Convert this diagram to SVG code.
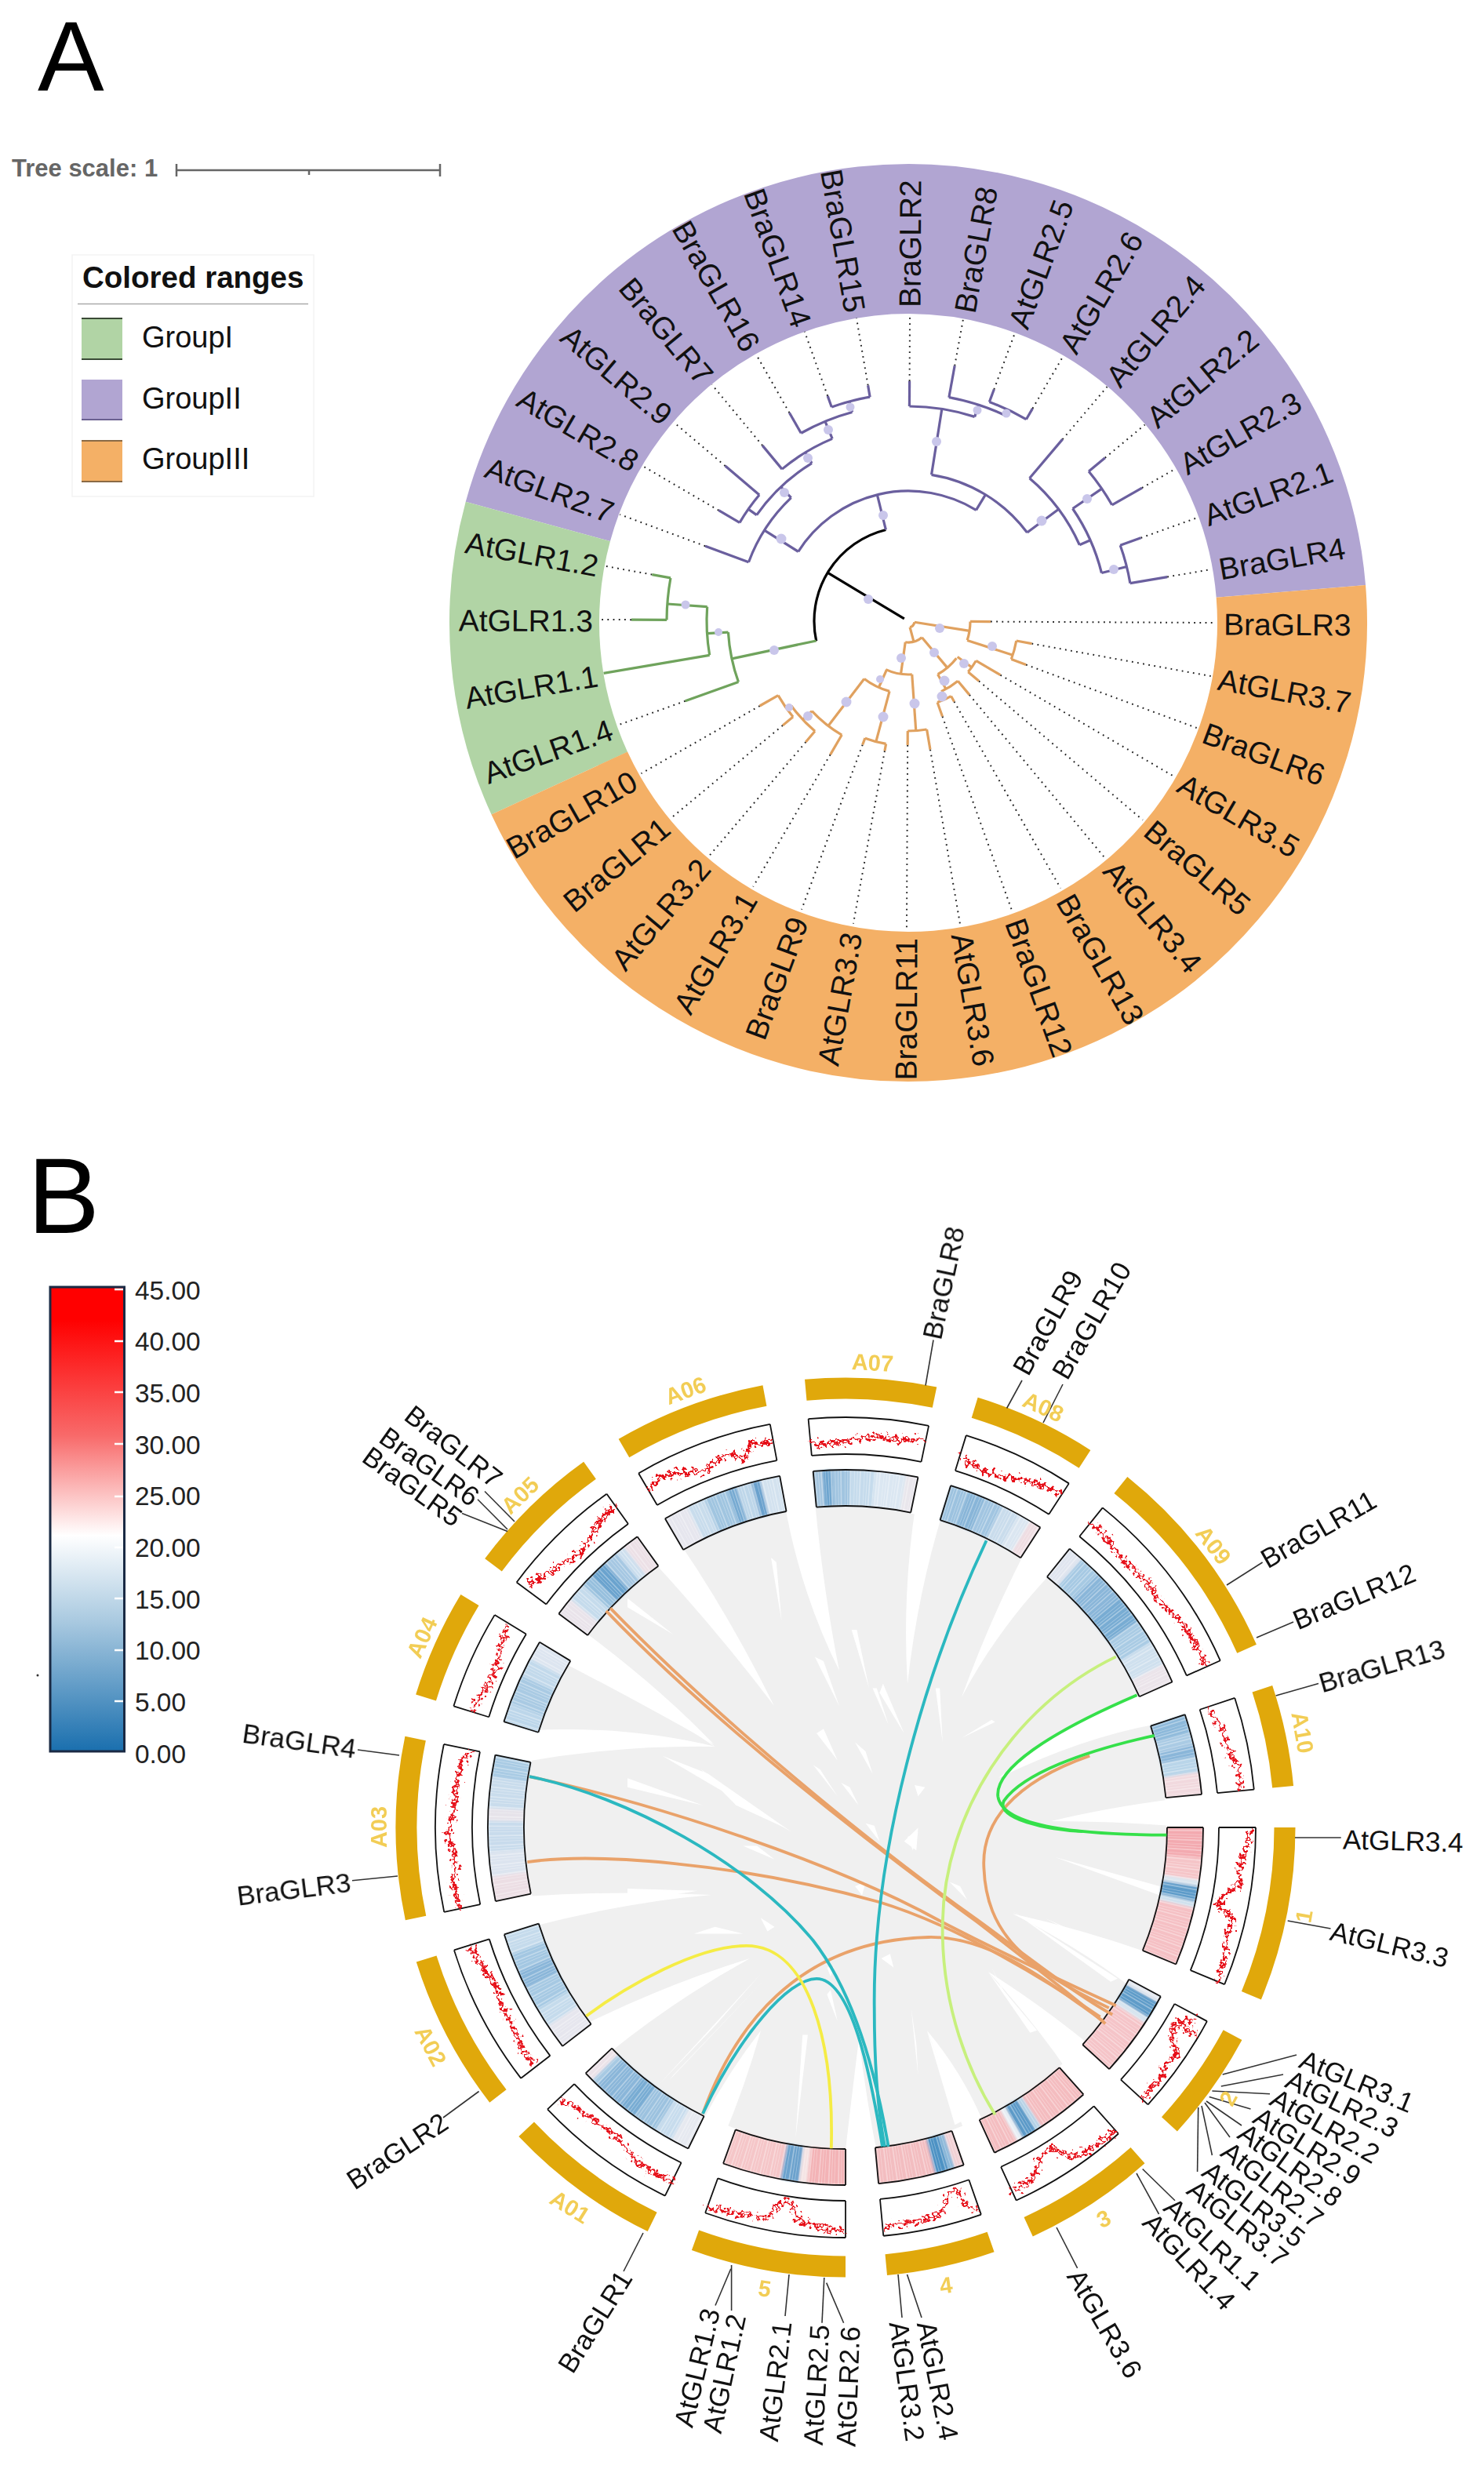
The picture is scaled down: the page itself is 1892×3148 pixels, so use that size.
<svg xmlns="http://www.w3.org/2000/svg" xmlns:xlink="http://www.w3.org/1999/xlink" width="1892" height="3148" viewBox="0 0 1892 3148">
<style>
text{font-family:"Liberation Sans",Arial,sans-serif;fill:#111}
.big{font-size:138px;fill:#000}
.lab{font-size:39px;dominant-baseline:central}
.e{text-anchor:end}
.blab{font-size:35px;dominant-baseline:central}
.chr{font-size:29px;font-weight:700;fill:#f2cd55;text-anchor:middle;dominant-baseline:central}
.cb{font-size:33.4px;fill:#222}
.t circle,.t path{fill:none;stroke-width:3.2}
.pu circle,.pu path{stroke:#6a5f9e}
.gr circle,.gr path{stroke:#6fa35c}
.or circle,.or path{stroke:#e0a15f}
.bk circle,.bk path{stroke:#000}
.dot path{fill:none;stroke:#222;stroke-width:2;stroke-dasharray:1.8 5.4}
.boot circle{fill:#c9c6ea}
.lead path{fill:none;stroke:#333;stroke-width:1.6}
.lk path{fill:none;stroke-width:3.8;vector-effect:non-scaling-stroke}
.red path{fill:none;stroke:#e60f18;stroke-width:4.2;vector-effect:non-scaling-stroke;stroke-linejoin:round}
.rg{stroke:#e0a80b;stroke-width:27}
.bd{stroke:#111;stroke-width:1.8;fill:none}
.h use{stroke-width:46}
</style>
<defs>
<circle id="r" r="560" pathLength="360" fill="none"/>
<circle id="b1" r="410" pathLength="360" fill="none"/>
<circle id="b2" r="456" pathLength="360" fill="none"/>
<circle id="b3" r="476" pathLength="360" fill="none"/>
<circle id="b4" r="523" pathLength="360" fill="none"/>
<circle id="hc" r="433" pathLength="360" fill="none"/>
<path id="edge" d="M410 0H456M476 0H523"/>
<linearGradient id="cbar" x1="0" y1="0" x2="0" y2="1">
<stop offset="0" stop-color="#ff0000"/><stop offset=".07" stop-color="#ff0000"/><stop offset=".32" stop-color="#f86a6a"/><stop offset=".535" stop-color="#ffffff"/><stop offset=".72" stop-color="#a9c9e0"/><stop offset="1" stop-color="#1a6fae"/>
</linearGradient>
<filter id="jag" filterUnits="userSpaceOnUse" x="400" y="1700" width="1300" height="1300" color-interpolation-filters="sRGB">
<feTurbulence type="fractalNoise" baseFrequency=".2" numOctaves="2" seed="3" result="n"/>
<feDisplacementMap in="SourceGraphic" in2="n" scale="22" xChannelSelector="R" yChannelSelector="G"/>
</filter>
<filter id="soft" filterUnits="userSpaceOnUse" x="-480" y="-480" width="960" height="960">
<feGaussianBlur stdDeviation="1.8"/>
</filter>
</defs>
<rect width="1892" height="3148" fill="#fff"/>

<g id="panel-A-title"><text class="big" style="font-size:127px" x="48" y="115">A</text></g>
<g id="tree-scale">
<text x="15" y="225" font-size="31" font-weight="700" style="fill:#666">Tree scale: 1</text>
<path d="M225 217H561M225 209V225M561 209V225M394 217V223" stroke="#666" stroke-width="2.5" fill="none"/>
</g>
<g id="legend">
<rect x="92" y="325" width="308" height="308" fill="#fff" stroke="#f3f3f3" stroke-width="1.5"/>
<text x="105" y="367" font-size="38.5" font-weight="700">Colored ranges</text>
<path d="M99 387.5H393" stroke="#aaa" stroke-width="1.5"/>
<rect x="104" y="405" width="52" height="54" fill="#b1d4a5"/><path d="M104 406H156M104 458H156" stroke="#3a4a36" stroke-width="2"/>
<rect x="104" y="484" width="52" height="52" fill="#b1a5d2"/><path d="M104 535H156" stroke="#6a6090" stroke-width="2"/>
<rect x="104" y="561" width="52" height="54" fill="#f4b066"/><path d="M104 562H156M104 614H156" stroke="#8a6a45" stroke-width="2"/>
<text x="181" y="443" font-size="38">GroupI</text>
<text x="181" y="521" font-size="38">GroupII</text>
<text x="181" y="598" font-size="38">GroupIII</text>
</g>

<g id="ring-A" transform="translate(1158,794)" fill="none" stroke-width="191">
<circle id="range-II" r="489.5" pathLength="360" stroke="#b1a5d2" stroke-dasharray="160 360" transform="rotate(-164.7)"/>
<circle id="range-I" r="489.5" pathLength="360" stroke="#b1d4a5" stroke-dasharray="40 360" transform="rotate(-204.7)"/>
<circle id="range-III" r="489.5" pathLength="360" stroke="#f4b066" stroke-dasharray="160 360" transform="rotate(-364.7)"/>
</g>

<g id="connectors-A" transform="translate(1158,792)">
<g class="dot">
<path d="M335 0H392" transform="rotate(-9.7)"/><path d="M315 0H392" transform="rotate(-19.7)"/><path d="M343 0H392" transform="rotate(-29.7)"/><path d="M326 0H392" transform="rotate(-39.7)"/><path d="M304 0H392" transform="rotate(-49.7)"/><path d="M314 0H392" transform="rotate(-59.7)"/><path d="M315 0H392" transform="rotate(-69.7)"/><path d="M331 0H392" transform="rotate(-79.7)"/><path d="M306 0H392" transform="rotate(-89.7)"/><path d="M305 0H392" transform="rotate(-99.7)"/><path d="M305 0H392" transform="rotate(-109.7)"/><path d="M306 0H392" transform="rotate(-119.7)"/><path d="M291 0H392" transform="rotate(-129.7)"/><path d="M306 0H392" transform="rotate(-139.7)"/><path d="M280 0H392" transform="rotate(-149.7)"/><path d="M276 0H392" transform="rotate(-159.7)"/>
<path d="M332 0H392" transform="rotate(-169.7)"/><path d="M353 0H392" transform="rotate(-179.7)"/><path d="M302 0H392" transform="rotate(-199.7)"/>
<path d="M218 0H392" transform="rotate(-209.7)"/><path d="M208 0H392" transform="rotate(-219.7)"/><path d="M202 0H392" transform="rotate(-229.7)"/><path d="M197 0H392" transform="rotate(-239.7)"/><path d="M168 0H392" transform="rotate(-249.7)"/><path d="M168 0H392" transform="rotate(-259.7)"/><path d="M158 0H392" transform="rotate(-269.7)"/><path d="M166 0H392" transform="rotate(-279.7)"/><path d="M129 0H392" transform="rotate(-289.7)"/><path d="M118 0H392" transform="rotate(-299.7)"/><path d="M122 0H392" transform="rotate(-309.7)"/><path d="M118 0H392" transform="rotate(-319.7)"/><path d="M136 0H392" transform="rotate(-329.7)"/><path d="M160 0H392" transform="rotate(-339.7)"/><path d="M160 0H392" transform="rotate(-349.7)"/><path d="M105 0H392" transform="rotate(-359.7)"/>
</g>
<g class="t bk">
<circle r="120" pathLength="360" stroke-dasharray="88.4 360" transform="rotate(-192.2)"/>
<path d="M6 0H120" transform="rotate(-149)"/>
</g>
<g class="t pu">
<path d="M120 0H166" transform="rotate(-103.8)"/>
<circle r="166" pathLength="360" stroke-dasharray="89.1 360" transform="rotate(-147.7)"/>
<path d="M166 0H217" transform="rotate(-147.7)"/>
<circle r="217" pathLength="360" stroke-dasharray="26.2 360" transform="rotate(-159.7)"/>
<path d="M217 0H276" transform="rotate(-159.7)"/>
<path d="M217 0H236" transform="rotate(-133.5)"/>
<circle r="236" pathLength="360" stroke-dasharray="23.6 360" transform="rotate(-145)"/>
<path d="M236 0H249" transform="rotate(-145)"/>
<circle r="249" pathLength="360" stroke-dasharray="10 360" transform="rotate(-149.7)"/>
<path d="M249 0H280" transform="rotate(-149.7)"/><path d="M249 0H306" transform="rotate(-139.7)"/>
<path d="M236 0H252" transform="rotate(-121.4)"/>
<circle r="252" pathLength="360" stroke-dasharray="17.1 360" transform="rotate(-129.7)"/>
<path d="M252 0H291" transform="rotate(-129.7)"/>
<path d="M252 0H276" transform="rotate(-112.6)"/>
<circle r="276" pathLength="360" stroke-dasharray="14.7 360" transform="rotate(-119.7)"/>
<path d="M276 0H306" transform="rotate(-119.7)"/>
<path d="M276 0H290" transform="rotate(-105)"/>
<circle r="290" pathLength="360" stroke-dasharray="10 360" transform="rotate(-109.7)"/>
<path d="M290 0H305" transform="rotate(-109.7)"/><path d="M290 0H305" transform="rotate(-99.7)"/>
<path d="M166 0H189" transform="rotate(-58.6)"/>
<circle r="189" pathLength="360" stroke-dasharray="44.3 360" transform="rotate(-81)"/>
<path d="M189 0H274" transform="rotate(-81)"/>
<circle r="274" pathLength="360" stroke-dasharray="17.7 360" transform="rotate(-89.7)"/>
<path d="M274 0H306" transform="rotate(-89.7)"/>
<path d="M274 0H290" transform="rotate(-72)"/>
<circle r="290" pathLength="360" stroke-dasharray="15.2 360" transform="rotate(-79.7)"/>
<path d="M290 0H331" transform="rotate(-79.7)"/>
<path d="M290 0H298" transform="rotate(-64.5)"/>
<circle r="298" pathLength="360" stroke-dasharray="10 360" transform="rotate(-69.7)"/>
<path d="M298 0H315" transform="rotate(-69.7)"/><path d="M298 0H314" transform="rotate(-59.7)"/>
<path d="M189 0H239" transform="rotate(-36.7)"/>
<circle r="239" pathLength="360" stroke-dasharray="25.7 360" transform="rotate(-49.7)"/>
<path d="M239 0H304" transform="rotate(-49.7)"/>
<path d="M239 0H254" transform="rotate(-24)"/>
<circle r="254" pathLength="360" stroke-dasharray="20.4 360" transform="rotate(-34.4)"/>
<path d="M254 0H299" transform="rotate(-34.4)"/>
<circle r="299" pathLength="360" stroke-dasharray="10 360" transform="rotate(-39.7)"/>
<path d="M299 0H326" transform="rotate(-39.7)"/><path d="M299 0H343" transform="rotate(-29.7)"/>
<path d="M254 0H287" transform="rotate(-14)"/>
<circle r="287" pathLength="360" stroke-dasharray="10 360" transform="rotate(-19.7)"/>
<path d="M287 0H315" transform="rotate(-19.7)"/><path d="M287 0H335" transform="rotate(-9.7)"/>
</g>
<g class="t gr">
<path d="M120 0H230" transform="rotate(-192)"/>
<circle r="230" pathLength="360" stroke-dasharray="16.2 360" transform="rotate(-199.7)"/>
<path d="M230 0H302" transform="rotate(-199.7)"/>
<path d="M230 0H257" transform="rotate(-183.5)"/>
<circle r="257" pathLength="360" stroke-dasharray="13.8 360" transform="rotate(-189.7)"/>
<path d="M257 0H394" transform="rotate(-189.7)"/>
<path d="M257 0H308" transform="rotate(-175.9)"/>
<circle r="308" pathLength="360" stroke-dasharray="10 360" transform="rotate(-179.7)"/>
<path d="M308 0H332" transform="rotate(-169.7)"/><path d="M308 0H353" transform="rotate(-179.7)"/>
</g>
<g class="t or">
<circle r="8" pathLength="360" stroke-dasharray="66 360" transform="rotate(-351)"/>
<path d="M8 0H79" transform="rotate(-351)"/>
<path d="M8 0H27" transform="rotate(-285)"/>
<circle r="79" pathLength="360" stroke-dasharray="17.7 360" transform="rotate(-359.7)"/>
<path d="M79 0H105" transform="rotate(-359.7)"/>
<path d="M79 0H140" transform="rotate(-342)"/>
<circle r="140" pathLength="360" stroke-dasharray="10 360" transform="rotate(-349.7)"/>
<path d="M140 0H160" transform="rotate(-349.7)"/><path d="M140 0H160" transform="rotate(-339.7)"/>
<circle r="27" pathLength="360" stroke-dasharray="48 360" transform="rotate(-310)"/>
<path d="M27 0H68" transform="rotate(-262)"/>
<circle r="68" pathLength="360" stroke-dasharray="29 360" transform="rotate(-274)"/>
<path d="M68 0H140" transform="rotate(-274)"/>
<circle r="140" pathLength="360" stroke-dasharray="10 360" transform="rotate(-279.7)"/>
<path d="M140 0H158" transform="rotate(-269.7)"/><path d="M140 0H166" transform="rotate(-279.7)"/>
<path d="M68 0H92.5" transform="rotate(-246)"/>
<circle r="92.5" pathLength="360" stroke-dasharray="22.4 360" transform="rotate(-255)"/>
<path d="M92.5 0H159" transform="rotate(-255)"/>
<circle r="159" pathLength="360" stroke-dasharray="10 360" transform="rotate(-259.7)"/>
<path d="M159 0H168" transform="rotate(-249.7)"/><path d="M159 0H168" transform="rotate(-259.7)"/>
<path d="M92.5 0H168" transform="rotate(-232.6)"/>
<circle r="168" pathLength="360" stroke-dasharray="16.7 360" transform="rotate(-239.7)"/>
<path d="M168 0H197" transform="rotate(-239.7)"/>
<path d="M168 0H184" transform="rotate(-223)"/>
<circle r="184" pathLength="360" stroke-dasharray="13.8 360" transform="rotate(-229.7)"/>
<path d="M184 0H202" transform="rotate(-229.7)"/>
<path d="M184 0H191" transform="rotate(-215.9)"/>
<circle r="191" pathLength="360" stroke-dasharray="10 360" transform="rotate(-219.7)"/>
<path d="M191 0H218" transform="rotate(-209.7)"/><path d="M191 0H208" transform="rotate(-219.7)"/>
<path d="M27 0H77.5" transform="rotate(-310)"/>
<circle r="77.5" pathLength="360" stroke-dasharray="23.4 360" transform="rotate(-322.4)"/>
<path d="M77.5 0H100" transform="rotate(-324)"/>
<circle r="100" pathLength="360" stroke-dasharray="10 360" transform="rotate(-329.7)"/>
<path d="M100 0H136" transform="rotate(-329.7)"/><path d="M100 0H118" transform="rotate(-319.7)"/>
<path d="M77.5 0H99" transform="rotate(-299)"/>
<circle r="99" pathLength="360" stroke-dasharray="14.7 360" transform="rotate(-309.7)"/>
<path d="M99 0H122" transform="rotate(-309.7)"/>
<path d="M99 0H110" transform="rotate(-295)"/>
<circle r="110" pathLength="360" stroke-dasharray="10 360" transform="rotate(-299.7)"/>
<path d="M110 0H129" transform="rotate(-289.7)"/><path d="M110 0H118" transform="rotate(-299.7)"/>
</g>
</g>
<g class="boot" id="support-dots">
<circle cx="1084" cy="519" r="5.5"/><circle cx="1056" cy="548" r="6"/><circle cx="1030" cy="584" r="6"/><circle cx="1000" cy="628" r="6"/><circle cx="996" cy="687" r="6.5"/><circle cx="1126" cy="657" r="6"/><circle cx="1107" cy="764" r="6"/><circle cx="874" cy="771" r="5.5"/>
<circle cx="1246" cy="523" r="5.5"/><circle cx="1283" cy="527" r="5.5"/><circle cx="1194" cy="563" r="6"/><circle cx="1328" cy="664" r="6.5"/><circle cx="1386" cy="636" r="6"/><circle cx="1420" cy="726" r="6"/>
<circle cx="916" cy="806" r="5"/><circle cx="987" cy="829" r="6"/><circle cx="1006" cy="902" r="5"/><circle cx="1030" cy="913" r="6"/><circle cx="1079" cy="895" r="6.5"/><circle cx="1126" cy="914" r="6.5"/><circle cx="1149" cy="839" r="6"/><circle cx="1122" cy="866" r="5"/>
<circle cx="1198" cy="801" r="6"/><circle cx="1265" cy="824" r="6"/><circle cx="1191" cy="832" r="6"/><circle cx="1229" cy="846" r="6"/><circle cx="1204" cy="868" r="6.5"/><circle cx="1201" cy="888" r="6.5"/><circle cx="1166" cy="897" r="6.5"/>
</g>
<g id="leaf-labels" transform="translate(1158,794)">
<text class="lab" x="402" transform="rotate(-9.7)">BraGLR4</text><text class="lab" x="402" transform="rotate(-19.7)">AtGLR2.1</text><text class="lab" x="402" transform="rotate(-29.7)">AtGLR2.3</text><text class="lab" x="402" transform="rotate(-39.7)">AtGLR2.2</text><text class="lab" x="402" transform="rotate(-49.7)">AtGLR2.4</text><text class="lab" x="402" transform="rotate(-59.7)">AtGLR2.6</text><text class="lab" x="402" transform="rotate(-69.7)">AtGLR2.5</text><text class="lab" x="402" transform="rotate(-79.7)">BraGLR8</text><text class="lab" x="402" transform="rotate(-89.7)">BraGLR2</text>
<text class="lab e" x="-402" transform="rotate(80.3)">BraGLR15</text><text class="lab e" x="-402" transform="rotate(70.3)">BraGLR14</text><text class="lab e" x="-402" transform="rotate(60.3)">BraGLR16</text><text class="lab e" x="-402" transform="rotate(50.3)">BraGLR7</text><text class="lab e" x="-402" transform="rotate(40.3)">AtGLR2.9</text><text class="lab e" x="-402" transform="rotate(30.3)">AtGLR2.8</text><text class="lab e" x="-402" transform="rotate(20.3)">AtGLR2.7</text>
<text class="lab e" x="-402" transform="rotate(10.3)">AtGLR1.2</text><text class="lab e" x="-402" transform="rotate(0.3)">AtGLR1.3</text><text class="lab e" x="-402" transform="rotate(-9.7)">AtGLR1.1</text><text class="lab e" x="-402" transform="rotate(-19.7)">AtGLR1.4</text>
<text class="lab e" x="-402" transform="rotate(-29.7)">BraGLR10</text><text class="lab e" x="-402" transform="rotate(-39.7)">BraGLR1</text><text class="lab e" x="-402" transform="rotate(-49.7)">AtGLR3.2</text><text class="lab e" x="-402" transform="rotate(-59.7)">AtGLR3.1</text><text class="lab e" x="-402" transform="rotate(-69.7)">BraGLR9</text><text class="lab e" x="-402" transform="rotate(-79.7)">AtGLR3.3</text><text class="lab e" x="-402" transform="rotate(-89.7)">BraGLR11</text>
<text class="lab" x="402" transform="rotate(80.3)">AtGLR3.6</text><text class="lab" x="402" transform="rotate(70.3)">BraGLR12</text><text class="lab" x="402" transform="rotate(60.3)">BraGLR13</text><text class="lab" x="402" transform="rotate(50.3)">AtGLR3.4</text><text class="lab" x="402" transform="rotate(40.3)">BraGLR5</text><text class="lab" x="402" transform="rotate(30.3)">AtGLR3.5</text><text class="lab" x="402" transform="rotate(20.3)">BraGLR6</text><text class="lab" x="402" transform="rotate(10.3)">AtGLR3.7</text><text class="lab" x="402" transform="rotate(0.3)">BraGLR3</text>
</g>

<g id="panel-B-title"><text class="big" x="35" y="1572">B</text></g>
<g id="colorbar">
<rect x="64" y="1641" width="94.5" height="592" fill="url(#cbar)" stroke="#1a2a44" stroke-width="3"/>
<path d="M146 1644H157M146 1710H157M146 1775H157M146 1841H157M146 1908H157M146 1973H157M146 2038H157M146 2104H157M146 2169H157" stroke="#fff" stroke-width="2.5" fill="none"/>
<text class="cb" x="172" y="1657">45.00</text><text class="cb" x="172" y="1722">40.00</text><text class="cb" x="172" y="1788">35.00</text><text class="cb" x="172" y="1854">30.00</text><text class="cb" x="172" y="1919">25.00</text><text class="cb" x="172" y="1985">20.00</text><text class="cb" x="172" y="2051">15.00</text><text class="cb" x="172" y="2116">10.00</text><text class="cb" x="172" y="2182">5.00</text><text class="cb" x="172" y="2248">0.00</text>
<circle cx="48" cy="2136" r="1.5" fill="#333"/>
</g>

<g id="synteny">
<circle cx="1078" cy="2330" r="409" fill="#f0f0f0"/>
<g fill="#fff">
<path d="M832 1990L865 1965Q930 2060 987 2175Q915 2080 832 1990Z"/>
<path d="M1000 1915L1039 1915Q1050 2030 1070 2130Q1020 2030 1000 1915Z"/>
<path d="M1168 1915L1203 1925Q1170 2030 1157 2147Q1150 2030 1168 1915Z"/>
<path d="M1306 1980L1340 2006Q1270 2080 1226 2164Q1260 2070 1306 1980Z"/>
<path d="M1460 2158L1476 2198Q1380 2215 1273 2267Q1350 2200 1460 2158Z"/>
<path d="M1495 2294L1495 2328Q1420 2322 1340 2322Q1410 2305 1495 2294Z"/>
<path d="M1468 2491L1440 2532Q1370 2480 1291 2440Q1380 2460 1468 2491Z"/>
<path d="M1390 2608L1362 2642Q1320 2580 1260 2514Q1325 2555 1390 2608Z"/>
<path d="M1252 2702L1232 2725Q1210 2660 1182 2589Q1225 2640 1252 2702Z"/>
<path d="M1119 2750L1077 2750Q1085 2680 1095 2600Q1105 2680 1119 2750Z"/>
<path d="M922 2726L898 2700Q930 2640 970 2589Q950 2660 922 2726Z"/>
<path d="M748 2580L776 2618Q860 2550 956 2497Q850 2530 748 2580Z"/>
<path d="M670 2418L680 2456Q800 2425 907 2416Q790 2410 670 2418Z"/>
<path d="M670 2246L678 2206Q800 2200 912 2227Q790 2225 670 2246Z"/>
<path d="M706 2052L722 2122Q815 2170 910 2224Q830 2140 706 2052Z"/>
</g>
<g fill="#fff" transform="translate(800,1900) scale(.4464,.574)">
<polygon points="640,310 655,310 690,440"/><polygon points="535,370 560,380 605,480"/><polygon points="700,440 712,440 745,520"/><polygon points="880,440 892,440 900,560"/><polygon points="1040,510 1050,515 955,550"/><polygon points="530,610 550,620 600,680"/><polygon points="610,650 635,660 660,700"/><polygon points="650,560 680,580 700,630"/><polygon points="820,655 850,660 830,680"/><polygon points="800,770 830,760 815,800"/><polygon points="680,740 705,745 720,780"/><polygon points="330,790 370,790 420,820"/><polygon points="100,590 230,630 470,760"/><polygon points="210,620 310,700 450,750"/><polygon points="190,985 330,985 250,970"/><polygon points="0,885 200,890 0,915"/><polygon points="1220,815 1520,880 1520,900"/><polygon points="1100,935 1400,1085 1380,1092"/><polygon points="1190,950 1450,1040 1430,1045"/><polygon points="1030,1070 1170,1200 1150,1205"/><polygon points="855,1200 960,1400 935,1410"/><polygon points="810,1150 825,1230 830,1300"/><polygon points="500,1210 515,1210 480,1440"/><polygon points="570,1120 580,1110 600,1180"/><polygon points="120,1310 400,1080 130,1300"/><polygon points="90,1320 380,1075 250,1190"/><polygon points="0,240 130,320 0,260"/><polygon points="0,395 250,570 0,440"/><polygon points="0,640 215,700 0,660"/><polygon points="410,150 440,290 425,160"/><polygon points="725,1040 750,1030 760,1060"/><polygon points="920,870 950,880 970,910"/><polygon points="1040,1060 1100,1150 1070,1110"/><polygon points="570,1060 590,1060 580,1080"/><polygon points="380,950 420,970 400,980"/><polygon points="720,450 730,430 790,540"/><polygon points="650,880 680,870 670,900"/><polygon points="790,780 830,750 825,800"/><polygon points="540,540 560,530 600,600"/></g>
</g>

<g id="heatmap" transform="translate(1078,2330)">
<g filter="url(#soft)">
<g class="h" transform="rotate(-95.2)"><use href="#hc" stroke="#a5c6e0" stroke-dasharray="1.5 360"/><use href="#hc" stroke="#6ea5cf" stroke-dasharray="1.5 360" transform="rotate(1.5)"/><use href="#hc" stroke="#a0c4e0" stroke-dasharray="3 360" transform="rotate(3)"/><use href="#hc" stroke="#c5dbec" stroke-dasharray="4 360" transform="rotate(6)"/><use href="#hc" stroke="#dbe7f2" stroke-dasharray="5 360" transform="rotate(10)"/><use href="#hc" stroke="#e9e6ec" stroke-dasharray="1.9 360" transform="rotate(15)"/></g>
<g class="h" transform="rotate(-120.3)"><use href="#hc" stroke="#e6e6ee" stroke-dasharray="4 360"/><use href="#hc" stroke="#c8dcec" stroke-dasharray="3 360" transform="rotate(4)"/><use href="#hc" stroke="#a0c5e0" stroke-dasharray="4 360" transform="rotate(7)"/><use href="#hc" stroke="#74a9d1" stroke-dasharray="1.5 360" transform="rotate(11)"/><use href="#hc" stroke="#bdd6e9" stroke-dasharray="2.5 360" transform="rotate(12.5)"/><use href="#hc" stroke="#6aa1cd" stroke-dasharray="1.5 360" transform="rotate(15)"/><use href="#hc" stroke="#d3e2ef" stroke-dasharray="3.2 360" transform="rotate(16.5)"/></g>
<g class="h" transform="rotate(-143.3)"><use href="#hc" stroke="#e9e3ea" stroke-dasharray="3 360"/><use href="#hc" stroke="#c5dbec" stroke-dasharray="3 360" transform="rotate(3)"/><use href="#hc" stroke="#96bfdd" stroke-dasharray="2 360" transform="rotate(6)"/><use href="#hc" stroke="#6ba3ce" stroke-dasharray="3 360" transform="rotate(8)"/><use href="#hc" stroke="#a5c7e2" stroke-dasharray="2.5 360" transform="rotate(11)"/><use href="#hc" stroke="#cddfee" stroke-dasharray="1.5 360" transform="rotate(13.5)"/><use href="#hc" stroke="#ece0e6" stroke-dasharray="2.7 360" transform="rotate(15)"/></g>
<g class="h" transform="rotate(-162.8)"><use href="#hc" stroke="#bcd6ea" stroke-dasharray="3 360"/><use href="#hc" stroke="#a9cae3" stroke-dasharray="5 360" transform="rotate(3)"/><use href="#hc" stroke="#c2d9eb" stroke-dasharray="3 360" transform="rotate(8)"/><use href="#hc" stroke="#dde5f0" stroke-dasharray="3 360" transform="rotate(11)"/></g>
<g class="h" transform="rotate(-191.9)"><use href="#hc" stroke="#ecdee4" stroke-dasharray="4 360"/><use href="#hc" stroke="#dce4ef" stroke-dasharray="4 360" transform="rotate(4)"/><use href="#hc" stroke="#c8dbec" stroke-dasharray="5 360" transform="rotate(8)"/><use href="#hc" stroke="#e6e3ea" stroke-dasharray="2 360" transform="rotate(13)"/><use href="#hc" stroke="#c9dcec" stroke-dasharray="5 360" transform="rotate(15)"/><use href="#hc" stroke="#a9cbe4" stroke-dasharray="3.6 360" transform="rotate(20)"/></g>
<g class="h" transform="rotate(-217.7)"><use href="#hc" stroke="#e6e6ee" stroke-dasharray="4 360"/><use href="#hc" stroke="#c5dbec" stroke-dasharray="3 360" transform="rotate(4)"/><use href="#hc" stroke="#a6c9e3" stroke-dasharray="4 360" transform="rotate(7)"/><use href="#hc" stroke="#8ab6d9" stroke-dasharray="3 360" transform="rotate(11)"/><use href="#hc" stroke="#a3c7e2" stroke-dasharray="3 360" transform="rotate(14)"/><use href="#hc" stroke="#c5dbec" stroke-dasharray="3.3 360" transform="rotate(17)"/></g>
<g class="h" transform="rotate(-243.9)"><use href="#hc" stroke="#e6e9f0" stroke-dasharray="3 360"/><use href="#hc" stroke="#c7dced" stroke-dasharray="3 360" transform="rotate(3)"/><use href="#hc" stroke="#9cc2df" stroke-dasharray="4 360" transform="rotate(6)"/><use href="#hc" stroke="#78acd3" stroke-dasharray="3 360" transform="rotate(10)"/><use href="#hc" stroke="#8ab6d9" stroke-dasharray="5 360" transform="rotate(13)"/><use href="#hc" stroke="#a8cae3" stroke-dasharray="1 360" transform="rotate(18)"/><use href="#hc" stroke="#ece2e8" stroke-dasharray="1.5 360" transform="rotate(19)"/></g>
<g class="h" transform="rotate(-270)"><use href="#hc" stroke="#f3b3b6" stroke-dasharray="6.2 360"/><use href="#hc" stroke="#f5e4e4" stroke-dasharray="1.3 360" transform="rotate(6.2)"/><use href="#hc" stroke="#6ca2cd" stroke-dasharray="3 360" transform="rotate(7.5)"/><use href="#hc" stroke="#f5c6c8" stroke-dasharray="9.5 360" transform="rotate(10.5)"/></g>
<g class="h" transform="rotate(-289.3)"><use href="#hc" stroke="#f1d0d4" stroke-dasharray="1.5 360"/><use href="#hc" stroke="#8db9da" stroke-dasharray="1 360" transform="rotate(1.5)"/><use href="#hc" stroke="#4d92c4" stroke-dasharray="2.3 360" transform="rotate(2.5)"/><use href="#hc" stroke="#f3bdc0" stroke-dasharray="9.2 360" transform="rotate(4.8)"/></g>
<g class="h" transform="rotate(-311.7)"><use href="#hc" stroke="#f4bcbf" stroke-dasharray="8.5 360"/><use href="#hc" stroke="#b7d4e8" stroke-dasharray="1 360" transform="rotate(8.5)"/><use href="#hc" stroke="#5b9ac8" stroke-dasharray="2.5 360" transform="rotate(9.5)"/><use href="#hc" stroke="#e8eff5" stroke-dasharray="1 360" transform="rotate(12)"/><use href="#hc" stroke="#f4bdc0" stroke-dasharray="4.1 360" transform="rotate(13)"/></g>
<g class="h" transform="rotate(-331.8)"><use href="#hc" stroke="#e3e8f0" stroke-dasharray="1 360"/><use href="#hc" stroke="#5f9cc9" stroke-dasharray="3 360" transform="rotate(1)"/><use href="#hc" stroke="#d7e5f0" stroke-dasharray="1 360" transform="rotate(4)"/><use href="#hc" stroke="#f5c4c8" stroke-dasharray="9.3 360" transform="rotate(5)"/></g>
<g class="h"><use href="#hc" stroke="#f3aab0" stroke-dasharray="5 360"/><use href="#hc" stroke="#f5c5c8" stroke-dasharray="3.5 360" transform="rotate(5)"/><use href="#hc" stroke="#dbe6ef" stroke-dasharray="1 360" transform="rotate(8.5)"/><use href="#hc" stroke="#5d9bc9" stroke-dasharray="2.5 360" transform="rotate(9.5)"/><use href="#hc" stroke="#cfe1ee" stroke-dasharray="1 360" transform="rotate(12)"/><use href="#hc" stroke="#f5c0c4" stroke-dasharray="9.5 360" transform="rotate(13)"/></g>
<g class="h" transform="rotate(-18.4)"><use href="#hc" stroke="#8db9da" stroke-dasharray="3 360"/><use href="#hc" stroke="#aacbe4" stroke-dasharray="2 360" transform="rotate(3)"/><use href="#hc" stroke="#8ab6d9" stroke-dasharray="2 360" transform="rotate(5)"/><use href="#hc" stroke="#b9d5e9" stroke-dasharray="2.5 360" transform="rotate(7)"/><use href="#hc" stroke="#f1d9de" stroke-dasharray="3.6 360" transform="rotate(9.5)"/></g>
<g class="h" transform="rotate(-51.2)"><use href="#hc" stroke="#e0e5ef" stroke-dasharray="2.5 360"/><use href="#hc" stroke="#a6c9e3" stroke-dasharray="3.5 360" transform="rotate(2.5)"/><use href="#hc" stroke="#8ab6d9" stroke-dasharray="5 360" transform="rotate(6)"/><use href="#hc" stroke="#78acd3" stroke-dasharray="5 360" transform="rotate(11)"/><use href="#hc" stroke="#a9cbe4" stroke-dasharray="4 360" transform="rotate(16)"/><use href="#hc" stroke="#cfe0ee" stroke-dasharray="4 360" transform="rotate(20)"/><use href="#hc" stroke="#ebe4ea" stroke-dasharray="3.2 360" transform="rotate(24)"/></g>
<g class="h" transform="rotate(-72.9)"><use href="#hc" stroke="#9cc2df" stroke-dasharray="3 360"/><use href="#hc" stroke="#88b5d8" stroke-dasharray="3 360" transform="rotate(3)"/><use href="#hc" stroke="#a1c5e1" stroke-dasharray="3 360" transform="rotate(6)"/><use href="#hc" stroke="#c9dcec" stroke-dasharray="3 360" transform="rotate(9)"/><use href="#hc" stroke="#dbe6f1" stroke-dasharray="2 360" transform="rotate(12)"/><use href="#hc" stroke="#efdde2" stroke-dasharray="1.9 360" transform="rotate(14)"/></g>
</g>
<use href="#hc" stroke="#fff" stroke-opacity=".35" stroke-width="46" stroke-dasharray=".12 .3 .22 .5 .1 .35"/>
</g>

<g id="chromosomes" transform="translate(1078,2330)">
<g id="chr-A07" transform="rotate(-95.2)"><use href="#r" class="rg" stroke-dasharray="16.9 360"/><g class="bd" stroke-dasharray="16.9 360"><use href="#b1"/><use href="#b2"/><use href="#b3"/><use href="#b4"/></g><g class="bd"><use href="#edge"/><use href="#edge" transform="rotate(16.9)"/></g></g>
<g id="chr-A06" transform="rotate(-120.3)"><use href="#r" class="rg" stroke-dasharray="19.7 360"/><g class="bd" stroke-dasharray="19.7 360"><use href="#b1"/><use href="#b2"/><use href="#b3"/><use href="#b4"/></g><g class="bd"><use href="#edge"/><use href="#edge" transform="rotate(19.7)"/></g></g>
<g id="chr-A05" transform="rotate(-143.3)"><use href="#r" class="rg" stroke-dasharray="17.7 360"/><g class="bd" stroke-dasharray="17.7 360"><use href="#b1"/><use href="#b2"/><use href="#b3"/><use href="#b4"/></g><g class="bd"><use href="#edge"/><use href="#edge" transform="rotate(17.7)"/></g></g>
<g id="chr-A04" transform="rotate(-162.8)"><use href="#r" class="rg" stroke-dasharray="14 360"/><g class="bd" stroke-dasharray="14 360"><use href="#b1"/><use href="#b2"/><use href="#b3"/><use href="#b4"/></g><g class="bd"><use href="#edge"/><use href="#edge" transform="rotate(14)"/></g></g>
<g id="chr-A03" transform="rotate(-191.9)"><use href="#r" class="rg" stroke-dasharray="23.6 360"/><g class="bd" stroke-dasharray="23.6 360"><use href="#b1"/><use href="#b2"/><use href="#b3"/><use href="#b4"/></g><g class="bd"><use href="#edge"/><use href="#edge" transform="rotate(23.6)"/></g></g>
<g id="chr-A02" transform="rotate(-217.7)"><use href="#r" class="rg" stroke-dasharray="20.3 360"/><g class="bd" stroke-dasharray="20.3 360"><use href="#b1"/><use href="#b2"/><use href="#b3"/><use href="#b4"/></g><g class="bd"><use href="#edge"/><use href="#edge" transform="rotate(20.3)"/></g></g>
<g id="chr-A01" transform="rotate(-243.9)"><use href="#r" class="rg" stroke-dasharray="20.5 360"/><g class="bd" stroke-dasharray="20.5 360"><use href="#b1"/><use href="#b2"/><use href="#b3"/><use href="#b4"/></g><g class="bd"><use href="#edge"/><use href="#edge" transform="rotate(20.5)"/></g></g>
<g id="chr-5" transform="rotate(-270)"><use href="#r" class="rg" stroke-dasharray="20 360"/><g class="bd" stroke-dasharray="20 360"><use href="#b1"/><use href="#b2"/><use href="#b3"/><use href="#b4"/></g><g class="bd"><use href="#edge"/><use href="#edge" transform="rotate(20)"/></g></g>
<g id="chr-4" transform="rotate(-289.3)"><use href="#r" class="rg" stroke-dasharray="14 360"/><g class="bd" stroke-dasharray="14 360"><use href="#b1"/><use href="#b2"/><use href="#b3"/><use href="#b4"/></g><g class="bd"><use href="#edge"/><use href="#edge" transform="rotate(14)"/></g></g>
<g id="chr-3" transform="rotate(-311.7)"><use href="#r" class="rg" stroke-dasharray="17.1 360"/><g class="bd" stroke-dasharray="17.1 360"><use href="#b1"/><use href="#b2"/><use href="#b3"/><use href="#b4"/></g><g class="bd"><use href="#edge"/><use href="#edge" transform="rotate(17.1)"/></g></g>
<g id="chr-2" transform="rotate(-331.8)"><use href="#r" class="rg" stroke-dasharray="14.3 360"/><g class="bd" stroke-dasharray="14.3 360"><use href="#b1"/><use href="#b2"/><use href="#b3"/><use href="#b4"/></g><g class="bd"><use href="#edge"/><use href="#edge" transform="rotate(14.3)"/></g></g>
<g id="chr-1"><use href="#r" class="rg" stroke-dasharray="22.5 360"/><g class="bd" stroke-dasharray="22.5 360"><use href="#b1"/><use href="#b2"/><use href="#b3"/><use href="#b4"/></g><g class="bd"><use href="#edge"/><use href="#edge" transform="rotate(22.5)"/></g></g>
<g id="chr-A10" transform="rotate(-18.4)"><use href="#r" class="rg" stroke-dasharray="13.1 360"/><g class="bd" stroke-dasharray="13.1 360"><use href="#b1"/><use href="#b2"/><use href="#b3"/><use href="#b4"/></g><g class="bd"><use href="#edge"/><use href="#edge" transform="rotate(13.1)"/></g></g>
<g id="chr-A09" transform="rotate(-51.2)"><use href="#r" class="rg" stroke-dasharray="27.2 360"/><g class="bd" stroke-dasharray="27.2 360"><use href="#b1"/><use href="#b2"/><use href="#b3"/><use href="#b4"/></g><g class="bd"><use href="#edge"/><use href="#edge" transform="rotate(27.2)"/></g></g>
<g id="chr-A08" transform="rotate(-72.9)"><use href="#r" class="rg" stroke-dasharray="15.9 360"/><g class="bd" stroke-dasharray="15.9 360"><use href="#b1"/><use href="#b2"/><use href="#b3"/><use href="#b4"/></g><g class="bd"><use href="#edge"/><use href="#edge" transform="rotate(15.9)"/></g></g>
</g>

<g id="density-lines" filter="url(#jag)" class="red">
<g transform="translate(700,1550) scale(.3827,.4464)">
<path d="M875 645L900 655L960 650L1010 640L1090 630L1150 640L1200 640L1250 640"/>
<path d="M335 780L375 745L420 735L470 735L530 725L560 695L610 680L650 700L670 650L700 650L745 645"/>
<path d="M-68 1055L0 1020L60 985L110 960L150 900L190 850L220 830"/>
<path d="M1370 690L1400 705L1450 730L1500 745L1568 752L1627 766L1706 795"/>
</g>
<g transform="translate(1300,1700) scale(.3776,.4464)">
<path d="M240 540L290 580L350 650L420 700L470 760L540 820L590 880L630 950"/>
<path d="M640 1080L680 1120L700 1180L740 1240L745 1300"/>
</g>
<path d="M1592.6 2334L1590.7 2351.7L1581 2378.5L1579.4 2403.8L1556.8 2419L1553 2430.6L1571.9 2446L1564 2472.7L1560.5 2499.5L1553 2526"/>
<g transform="translate(1300,2400) scale(.3776,.3827)">
<path d="M600 455L520 470L515 520L530 575L490 610L480 650L440 690L415 725"/><path d="M540 470L595 510"/>
</g>
<g transform="translate(800,2450) scale(.4145,.445)">
<path d="M1185 770L1240 745L1275 670L1300 645L1330 660L1380 675L1440 640L1505 600"/>
<path d="M790 875L850 865L910 855L970 830L985 775L1020 770L1035 810L1075 825"/>
<path d="M245 820L330 835L430 850L470 805L505 805L525 855L600 880L665 885"/>
</g>
<g transform="translate(250,2200) scale(.4145,.4464)">
<path d="M1115 1075L1150 1080L1210 1120L1290 1170L1350 1240L1420 1285L1475 1305"/>
<path d="M840 630L880 690L920 740L940 800L980 870L1010 940L1050 965"/>
<path d="M850 80L815 100L800 180L790 250L775 310L800 400L790 450L810 520"/>
</g>
<g transform="translate(0,1450) scale(.4464,.5102)">
<path d="M1450 1215L1430 1270L1420 1320L1385 1380L1350 1430"/>
</g>
</g>

<g id="links" class="lk" transform="translate(800,1900) scale(.4464,.574)">
<g stroke="#e9a26a">
<path d="M-61 268C250 520 700 790 1000 960C1150 1050 1280 1130 1365 1185"/>
<path d="M-49 262C260 510 700 790 1000 955C1150 1040 1280 1120 1385 1165"/>
<path d="M-280 636C100 700 600 830 900 960C1100 1040 1270 1100 1395 1145"/>
<path d="M-286 826C-100 805 300 825 720 915C950 970 1200 1090 1350 1170"/>
<path d="M215 1385C300 1200 480 1000 860 993C1050 990 1230 1110 1360 1180"/>
<path d="M1320 590C1100 650 1010 740 1018 840C1025 980 1130 1060 1375 1150"/>
</g>
<g stroke="#2bb8c0">
<path d="M1025 112C850 400 700 800 705 1150C705 1300 720 1400 735 1458"/>
<path d="M-280 636C0 680 350 830 530 1000C630 1100 700 1250 745 1458"/>
<path d="M215 1385C320 1210 460 1085 540 1085C640 1085 695 1300 728 1458"/>
</g>
<path stroke="#f5ec45" d="M-118 1168C0 1100 200 1012 340 1012C520 1012 590 1230 582 1462"/>
<path stroke="#c7f07d" d="M1395 370C1100 480 905 720 900 960C895 1150 980 1300 1050 1387"/>
<g stroke="#35e04a">
<path d="M1455 455C1200 540 1050 620 1058 680C1070 750 1300 765 1540 766"/>
<path d="M1505 545C1300 580 1130 630 1075 690C1050 730 1200 755 1300 758"/>
</g>
</g>

<g id="leaders" class="lead">
<path d="M1180 1766.5L1190 1708.5"/><path d="M1283.6 1795.5L1303 1760"/><path d="M1330 1814L1355 1765"/><path d="M1564 2021L1609.6 1992"/><path d="M1602 2088L1649 2068"/><path d="M1626.6 2162L1681 2146.4"/><path d="M1651 2343H1709.7"/><path d="M1641.7 2449L1696.5 2459"/>
<path d="M1558.7 2645L1653 2620"/><path d="M1556.8 2660L1636 2645"/><path d="M1545.4 2666L1619 2669.8"/><path d="M1541.7 2673.6L1594.5 2689"/><path d="M1538 2679L1583 2710"/><path d="M1536 2681L1568 2725"/><path d="M1532 2685L1545.4 2748"/><path d="M1527.7 2687L1526.6 2769"/><path d="M1456.7 2765.5L1498 2805.7"/><path d="M1449 2771L1477.5 2823"/><path d="M1347 2840L1373.6 2891.8"/>
<path d="M1156.5 2900L1175 2955"/><path d="M1145 2900L1150 2955"/><path d="M1053.7 2910.6L1075.6 2961.8"/><path d="M1050.8 2904L1048 2961.8"/><path d="M1006 2900L1001 2953"/><path d="M932.6 2888V2946"/><path d="M931.8 2892.8L912 2939.5"/><path d="M820 2847L795 2896"/><path d="M610.6 2666.5L565 2700"/><path d="M507 2392L449 2397.8"/><path d="M509 2238L456 2231"/><path d="M647 1952.5L589 1929.6"/><path d="M647 1950L609 1911.7"/><path d="M656 1940L618 1901.5"/>
</g>
<g id="gene-labels">
<text class="blab" transform="translate(1187,1707) rotate(-78)">BraGLR8</text>
<text class="blab" transform="translate(1300,1750) rotate(-61)">BraGLR9</text>
<text class="blab" transform="translate(1350,1755) rotate(-60)">BraGLR10</text>
<text class="blab" transform="translate(1610,1990) rotate(-29.7)">BraGLR11</text>
<text class="blab" transform="translate(1650,2067) rotate(-22.6)">BraGLR12</text>
<text class="blab" transform="translate(1682,2146) rotate(-16)">BraGLR13</text>
<text class="blab" transform="translate(1712,2345) rotate(1.5)">AtGLR3.4</text>
<text class="blab" transform="translate(1697,2461) rotate(13.5)">AtGLR3.3</text>
<text class="blab" transform="translate(1659,2624) rotate(22.5)">AtGLR3.1</text>
<text class="blab" transform="translate(1642,2649) rotate(25.6)">AtGLR2.3</text>
<text class="blab" transform="translate(1623,2672) rotate(30)">AtGLR2.2</text>
<text class="blab" transform="translate(1602,2695) rotate(32.3)">AtGLR2.9</text>
<text class="blab" transform="translate(1583,2715) rotate(36)">AtGLR2.8</text>
<text class="blab" transform="translate(1562,2738) rotate(38)">AtGLR2.7</text>
<text class="blab" transform="translate(1538,2763) rotate(37.8)">AtGLR3.5</text>
<text class="blab" transform="translate(1519,2786) rotate(39.2)">AtGLR3.7</text>
<text class="blab" transform="translate(1490,2808) rotate(43)">AtGLR1.1</text>
<text class="blab" transform="translate(1464,2827) rotate(47)">AtGLR1.4</text>
<text class="blab" transform="translate(1370,2896) rotate(59.7)">AtGLR3.6</text>
<text class="blab" transform="translate(1181,2960) rotate(78.8)">AtGLR2.4</text>
<text class="blab" transform="translate(1146,2960) rotate(82)">AtGLR3.2</text>
<text class="blab e" transform="translate(1084,2966) rotate(-87.8)">AtGLR2.6</text>
<text class="blab e" transform="translate(1045,2964) rotate(-86.7)">AtGLR2.5</text>
<text class="blab e" transform="translate(997,2960) rotate(-83.4)">AtGLR2.1</text>
<text class="blab e" transform="translate(939,2951) rotate(-78)">AtGLR1.2</text>
<text class="blab e" transform="translate(906,2944) rotate(-76.7)">AtGLR1.3</text>
<text class="blab e" transform="translate(797,2898) rotate(-58)">BraGLR1</text>
<text class="blab e" transform="translate(567,2702) rotate(-33.5)">BraGLR2</text>
<text class="blab e" transform="translate(447,2399) rotate(-7)">BraGLR3</text>
<text class="blab e" transform="translate(454,2229) rotate(8)">BraGLR4</text>
<text class="blab e" transform="translate(585,1938) rotate(36)">BraGLR5</text>
<text class="blab e" transform="translate(607,1912) rotate(35.5)">BraGLR6</text>
<text class="blab e" transform="translate(636,1889) rotate(38)">BraGLR7</text>
</g>
<g id="chromosome-labels">
<text class="chr" transform="translate(1112.5,1737.5) rotate(3)">A07</text>
<text class="chr" transform="translate(874,1773) rotate(-20)">A06</text>
<text class="chr" transform="translate(663,1906.6) rotate(-44)">A05</text>
<text class="chr" transform="translate(538,2087.8) rotate(-65)">A04</text>
<text class="chr" transform="translate(483,2329.5) rotate(-90)">A03</text>
<text class="chr" transform="translate(549,2608.5) rotate(62)">A02</text>
<text class="chr" transform="translate(726.7,2813.8) rotate(32)">A01</text>
<text class="chr" transform="translate(975,2918) rotate(8)">5</text>
<text class="chr" transform="translate(1206,2913.7) rotate(-8)">4</text>
<text class="chr" transform="translate(1407,2829) rotate(-25)">3</text>
<text class="chr" transform="translate(1566,2675.5) rotate(-62)">2</text>
<text class="chr" transform="translate(1662.5,2443) rotate(-80)">1</text>
<text class="chr" transform="translate(1660.6,2209) rotate(80)">A10</text>
<text class="chr" transform="translate(1547,1970) rotate(52)">A09</text>
<text class="chr" transform="translate(1330,1794) rotate(24)">A08</text>
</g>
</svg>
